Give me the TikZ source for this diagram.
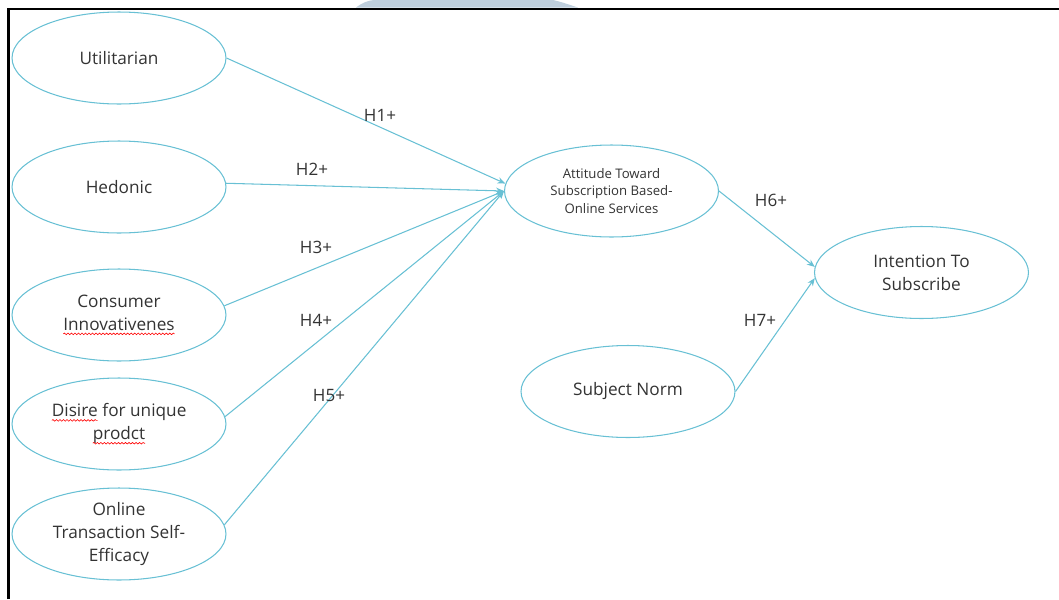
\documentclass[tikz,border=0pt]{standalone}
\usepackage{fontspec}
\setmainfont{Open Sans}
\usepackage{tikz}
\usetikzlibrary{shapes.geometric,arrows.meta,decorations.pathmorphing}
\definecolor{linea}{RGB}{104,192,212}
\definecolor{testo}{RGB}{51,51,51}
\definecolor{filigrana}{RGB}{191,207,221}
\newcommand{\refuso}[1]{\tikz[baseline=(rf.base)]{\node [shape=rectangle, draw=none, inner sep=0pt, outer sep=0pt, minimum width=0pt, minimum height=0pt] (rf) {#1}; \draw [red, line width=0.35pt, decorate, decoration={snake, amplitude=0.45pt, segment length=2pt}] ([yshift=-2pt]rf.base west) -- ([yshift=-2pt]rf.base east);}}

\begin{document}
\begin{tikzpicture}[x=0.02cm, y=-0.02cm,
	costrutto/.style={ellipse, draw=linea, line width=0.6pt, minimum width=4.28cm, minimum height=1.84cm, inner sep=0pt, align=center, text=testo, font=\fontsize{9.8}{13}\selectfont},
	ipotesi/.style={text=testo, font=\fontsize{9.7}{12}\selectfont, inner sep=0pt},
	freccia/.style={draw=linea, line width=0.6pt, -{Stealth[length=4.5pt, width=3.6pt]}}]
	\useasboundingbox (0,0) rectangle (1059,599);
	%Filigrana
	\fill [filigrana] (356,7.5) .. controls (362,3) and (368,0) .. (376,0) -- (553,0) .. controls (562,2) and (570,5) .. (578,7.5) -- cycle;
	%Cornice
	\draw [line width=1.5pt] (8.5,599) -- (8.5,9) -- (1059,9);
	%Costrutti
	\node [costrutto] (util) at (119,58) {Utilitarian};
	\node [costrutto] (hed) at (119,187) {Hedonic};
	\node [costrutto] (innov) at (119,315) {Consumer\\\refuso{Innovativenes}};
	\node [costrutto] (unic) at (119,424) {\refuso{Disire} for unique\\\refuso{prodct}};
	\node [costrutto] (eff) at (119,534) {Online\\Transaction Self-\\Efficacy};
	\node [costrutto, font=\fontsize{7.5}{10.2}\selectfont] (att) at (611.5,191) {Attitude Toward\\Subscription Based-\\Online Services};
	\node [costrutto] (int) at (921.5,272.5) {Intention To\\Subscribe};
	\node [costrutto] (norm) at (628,391.5) {Subject Norm};
	%Frecce verso l'atteggiamento
	\draw [freccia] (util.east) -- (att.176);
	\draw [freccia] (hed.2) -- (att.west);
	\draw [freccia] (innov.5) -- (att.west);
	\draw [freccia] (unic.4) -- (att.west);
	\draw [freccia] (eff.5) -- (att.west);
	%Frecce verso l'intenzione
	\draw [freccia] (att.east) -- (int.177);
	\draw [freccia] (norm.east) -- (int.183);
	%Etichette
	\node [ipotesi] (h1) at (380,115) {H1+};
	\node [ipotesi] (h2) at (312,169) {H2+};
	\node [ipotesi] (h3) at (316,247) {H3+};
	\node [ipotesi] (h4) at (316,320) {H4+};
	\node [ipotesi] (h5) at (329,395) {H5+};
	\node [ipotesi] (h6) at (771,200) {H6+};
	\node [ipotesi] (h7) at (760,320) {H7+};
\end{tikzpicture}
\end{document}
